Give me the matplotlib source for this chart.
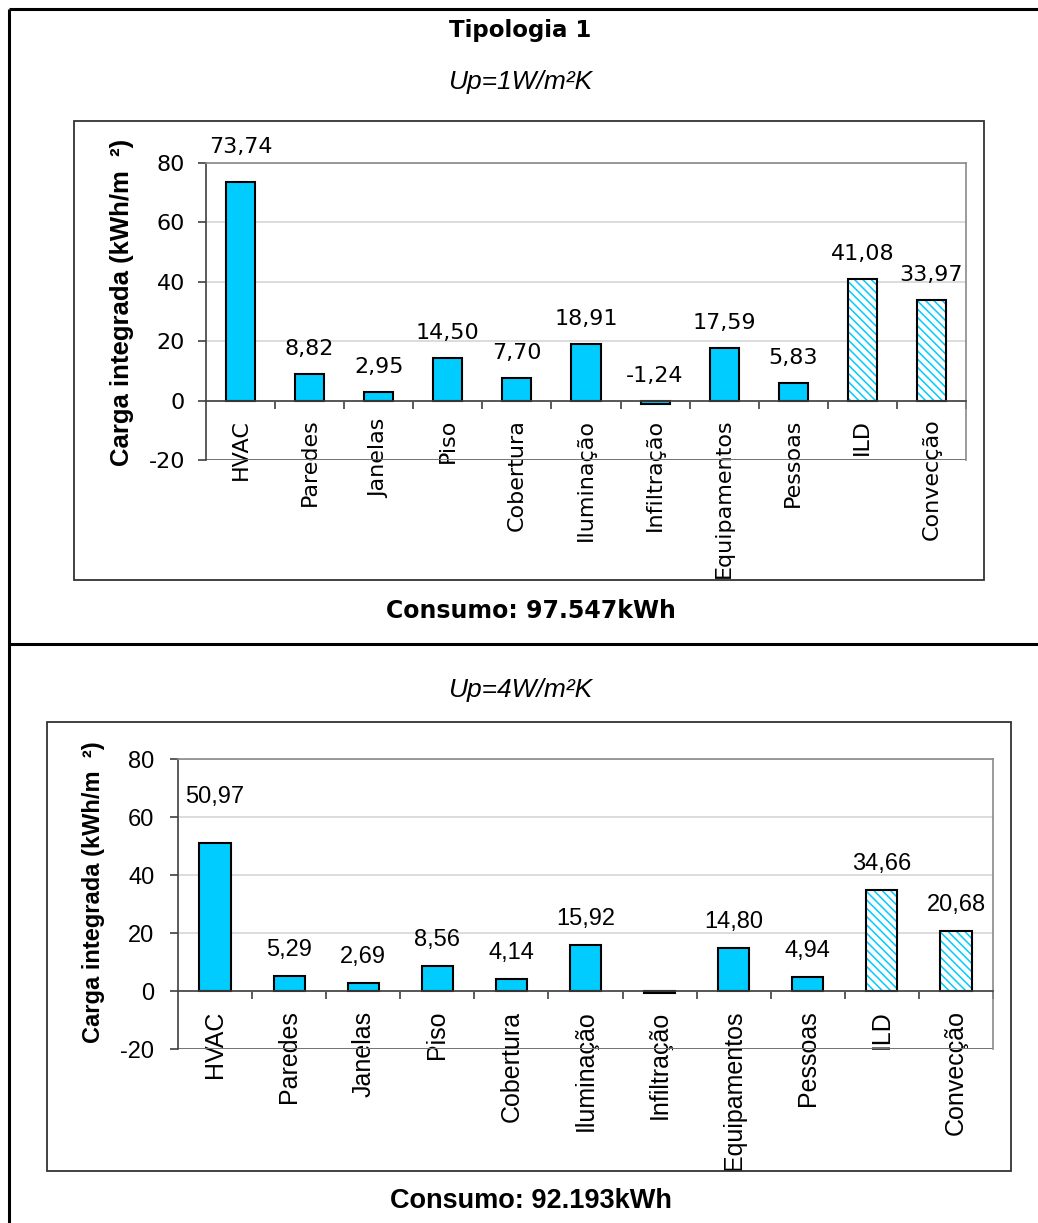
import numpy as np
import matplotlib
matplotlib.use("Agg")
import matplotlib.pyplot as plt
from matplotlib.lines import Line2D
from matplotlib.patches import Rectangle

# ---------------- data ----------------
categories = ["HVAC", "Paredes", "Janelas", "Piso", "Cobertura", "Iluminação",
              "Infiltração", "Equipamentos", "Pessoas", "ILD", "Convecção"]
values_up1 = [73.74, 8.82, 2.95, 14.50, 7.70, 18.91, -1.24, 17.59, 5.83, 41.08, 33.97]
values_up4 = [50.97, 5.29, 2.69, 8.56, 4.14, 15.92, -0.6, 14.80, 4.94, 34.66, 20.68]
hatched_categories = ["ILD", "Convecção"]
unlabeled_up1 = []
unlabeled_up4 = ["Infiltração"]
yticks = [-20, 0, 20, 40, 60, 80]
title = "Tipologia 1"
subtitles = ["Up=1W/m²K", "Up=4W/m²K"]
consumos = ["Consumo: 97.547kWh", "Consumo: 92.193kWh"]
ylabel = "Carga integrada (kWh/m  ²)"

# ---------------- style ----------------
W, H = 1038, 1223
CYAN = "#00CCFF"
AXC = "#404040"
FRAMEC = "#8a8a8a"
GRIDC = "#d6d6d6"
ARIAL = ["Liberation Sans", "DejaVu Sans"]
TAHOMA = ["DejaVu Sans"]
plt.rcParams["hatch.linewidth"] = 1.1

fig = plt.figure(figsize=(W / 100, H / 100), dpi=100)
fig.patch.set_facecolor("white")


def fx(x):
    return x / W


def fy(y):
    return 1 - y / H


def add_ax(l, t, r, b):
    return fig.add_axes([fx(l), fy(b), (r - l) / W, (b - t) / H])


def fig_line(x1, y1, x2, y2, color="black", lw=2.2):
    fig.add_artist(Line2D([fx(x1), fx(x2)], [fy(y1), fy(y2)],
                          transform=fig.transFigure, color=color, lw=lw,
                          solid_capstyle="butt"))


def fig_box(l, t, r, b):
    fig.add_artist(Rectangle((fx(l), fy(b)), (r - l) / W, (b - t) / H,
                             transform=fig.transFigure, fill=False,
                             edgecolor="#333333", lw=1.3))


def draw_chart(ax, values, fam, tick_fs, data_fs, cat_fs, ylab_fs,
               xpad, ypad, unlabeled, label_px, first_extra_px, ylab_xy):
    x = np.arange(len(categories))
    bw = 0.42
    for i, (c, v) in enumerate(zip(categories, values)):
        if c in hatched_categories:
            ax.bar(i, v, width=bw, color="white", edgecolor=CYAN,
                   hatch="\\\\\\\\", linewidth=0, zorder=3)
            ax.bar(i, v, width=bw, fill=False, edgecolor="black",
                   linewidth=1.5, zorder=4)
        else:
            ax.bar(i, v, width=bw, color=CYAN, edgecolor="black",
                   linewidth=1.5, zorder=3)
        if c not in unlabeled:
            off = label_px + (first_extra_px if i == 0 else 0)
            ax.annotate(f"{v:.2f}".replace(".", ","), xy=(i, max(v, 0)),
                        xytext=(0, off * 0.72), textcoords="offset points",
                        ha="center", va="baseline", fontsize=data_fs,
                        family=fam, zorder=6, annotation_clip=False)

    ax.set_xlim(-0.5, len(categories) - 0.5)
    ax.set_ylim(-20, 80)
    ax.set_yticks(yticks)
    ax.set_yticklabels([str(t) for t in yticks], family=fam)
    ax.yaxis.grid(True, color=GRIDC, lw=1.2)
    ax.set_axisbelow(True)

    ax.spines["left"].set_color(AXC)
    ax.spines["left"].set_linewidth(1.2)
    ax.spines["bottom"].set_position(("data", 0))
    ax.spines["bottom"].set_color(AXC)
    ax.spines["bottom"].set_linewidth(1.2)
    ax.spines["bottom"].set_zorder(5)
    for s in ("top", "right"):
        ax.spines[s].set_color(FRAMEC)
        ax.spines[s].set_linewidth(1.2)
    ax.axhline(-20, color="#6a6a6a", lw=1.3, zorder=2)

    ax.tick_params(axis="y", direction="out", length=6, width=1.2,
                   color=AXC, pad=ypad, labelsize=tick_fs)
    ax.set_xticks(x)
    ax.set_xticklabels(categories, rotation=90, fontsize=cat_fs, family=fam)
    ax.tick_params(axis="x", which="major", length=0, pad=xpad)
    ax.set_xticks(np.arange(0.5, len(categories), 1.0), minor=True)
    ax.tick_params(axis="x", which="minor", direction="out", length=6,
                   width=1.2, color=AXC)

    ax.set_ylabel(ylabel, fontsize=ylab_fs, fontweight="bold",
                  family=ARIAL, va="center")
    ax.yaxis.set_label_coords(*ylab_xy)


# ---------------- outer table ----------------
fig_line(9, 9, 1038, 9)
fig_line(9, 9, 9, 1223)
fig_line(9, 644, 1038, 644)

# ---------------- header texts ----------------
fig.text(fx(520), fy(31), title, ha="center", va="center", fontsize=16.5,
         fontweight="bold", family=TAHOMA)
fig.text(fx(520), fy(82), subtitles[0], ha="center", va="center",
         fontsize=19, style="italic", family=ARIAL)
fig.text(fx(531), fy(611), consumos[0], ha="center", va="center",
         fontsize=17, fontweight="bold", family=TAHOMA)
fig.text(fx(520), fy(690), subtitles[1], ha="center", va="center",
         fontsize=19, style="italic", family=ARIAL)
fig.text(fx(531), fy(1201), consumos[1], ha="center", va="center",
         fontsize=19.5, fontweight="bold", family=ARIAL)

# ---------------- chart boxes ----------------
fig_box(74, 121, 984, 580)
fig_box(47, 722, 1011, 1171)

# ---------------- charts ----------------
ax1 = add_ax(206, 163, 966, 460)
draw_chart(ax1, values_up1, TAHOMA, tick_fs=16, data_fs=16, cat_fs=16,
           ylab_fs=18.5, xpad=13, ypad=9, unlabeled=unlabeled_up1,
           label_px=19, first_extra_px=10, ylab_xy=(-0.111, 0.53))

ax2 = add_ax(178, 759, 993, 1049)
draw_chart(ax2, values_up4, ARIAL, tick_fs=17, data_fs=17, cat_fs=18,
           ylab_fs=17, xpad=14, ypad=11,
           unlabeled=unlabeled_up4, label_px=20, first_extra_px=20,
           ylab_xy=(-0.104, 0.54))

fig.savefig("out.png", dpi=100, facecolor="white")
